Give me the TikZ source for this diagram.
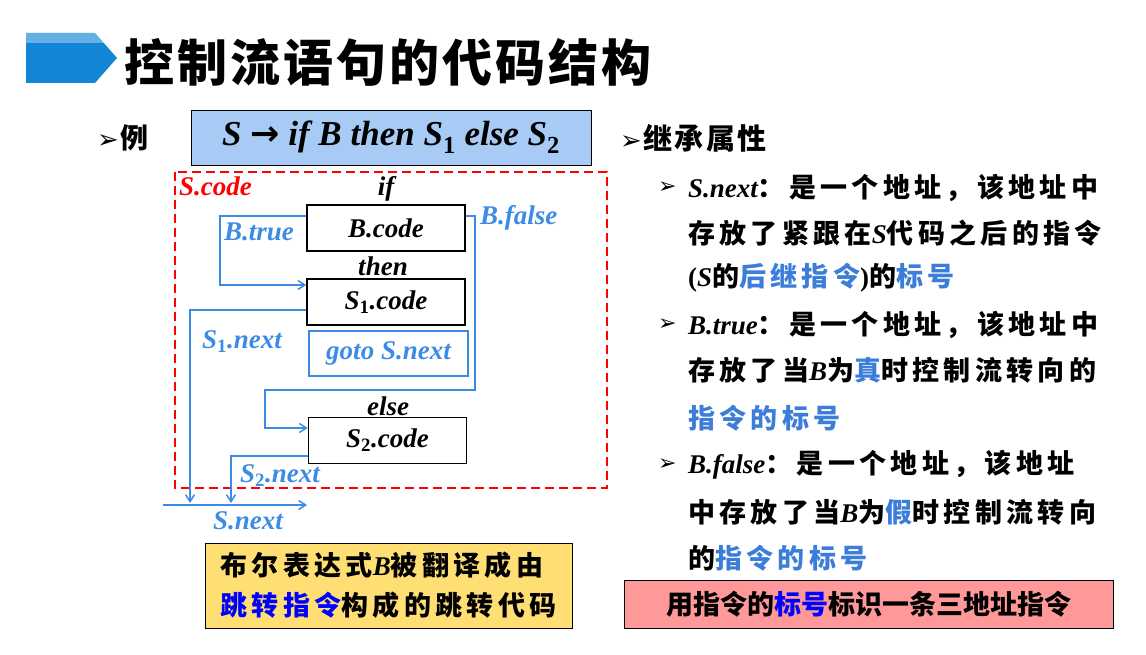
\documentclass[tikz,border=0pt]{standalone}
\usepackage{fontspec}
\setmainfont{Liberation Serif}
\newfontfamily\zhf{Noto Sans CJK SC}
\newfontfamily\zhs{Noto Sans CJK SC}[LetterSpace=16]
\newfontfamily\sym{DejaVu Sans}
\newcommand{\zh}[1]{{\zhf\bfseries #1}}
\newcommand{\zs}[1]{{\zhs\bfseries #1}}
\newcommand{\bt}[1]{{\bfseries\itshape #1}}
\definecolor{lb}{HTML}{3C8CE6}
\definecolor{tb}{HTML}{3B7DD8}
\definecolor{hdr}{HTML}{1385D6}
\usetikzlibrary{arrows.meta}
\begin{document}
\begin{tikzpicture}[x=1pt,y=-1pt,
  cbox/.style={draw=black,line width=1.5pt,minimum width=158pt,minimum height=46pt,inner sep=0pt,font=\fontsize{27}{27}\selectfont\bfseries\itshape},
  lab/.style={inner sep=0pt,font=\fontsize{27}{27}\selectfont\bfseries\itshape},
  bl/.style={lb,line width=1.5pt,-{Straight Barb[length=7pt,width=9pt]}},
  rt/.style={anchor=west,inner sep=0pt,font=\fontsize{27}{27}\selectfont}]
\useasboundingbox (0,0) rectangle (1146,655);
% title
\fill[hdr] (26,33) -- (95,33) -- (117,58) -- (95,83) -- (26,83) -- cycle;
\fill[white,opacity=0.35] (26,33) -- (95,33) -- (104,43) -- (26,43) -- cycle;
\node[anchor=west,inner sep=0pt] (title) at (124,62) {\zhf\bfseries\addfontfeature{LetterSpace=6}\fontsize{50}{50}\selectfont 控制流语句的代码结构};
% example
\node[anchor=west,inner sep=0pt] (li) at (97,138) {{\sym\fontsize{26}{26}\selectfont ➢}\,\zh{\fontsize{28}{28}\selectfont 例}};
\node[draw=black,fill=lb!45,line width=0.8pt,minimum width=400pt,minimum height=55pt,inner sep=0pt] (formula) at (391,137.5)
  {\fontsize{35}{35}\selectfont\bfseries\itshape S {\upshape\sym\bfseries →} if B then S\textsubscript{\upshape 1} else S\textsubscript{\upshape 2}};
% dashed frame
\draw[red,line width=1.5pt,dash pattern=on 9pt off 5pt] (175,172) rectangle (607,488);
\node[lab,red,anchor=west] (scode) at (179,186) {S.code};
\node[lab] (if) at (386,189) {if};
\node[cbox] (bc) at (386,228) {B.code};
\node[lab] (then) at (383,266) {then};
\node[cbox] (s1) at (386,302) {S\textsubscript{\upshape 1}.code};
\node[draw=lb,line width=1.5pt,minimum width=159pt,minimum height=45pt,inner sep=0pt,lab,lb] (gt) at (388.5,353.5) {goto S.next};
\node[lab] (else) at (388,406) {else};
\node[cbox] (s2) at (387.5,440.5) {S\textsubscript{\upshape 2}.code};
% connectors
\coordinate (a1) at (220,216);
\coordinate (a2) at (220,285);
\draw[bl] (bc.west|-a1) -- (a1) -- (a2) -- (s1.west|-a2);
\node[lab,lb,anchor=west] (btrue) at (224,232) {B.true};
\coordinate (f1) at (475,216);
\coordinate (f2) at (475,390);
\coordinate (f3) at (265,390);
\coordinate (f4) at (265,428);
\draw[bl] (bc.east|-f1) -- (f1) -- (f2) -- (f3) -- (f4) -- (s2.west|-f4);
\node[lab,lb,anchor=west] (bfalse) at (480,218) {B.false};
\coordinate (n0) at (163,505);
\coordinate (n1) at (307,505);
\draw[bl] (n0) -- (n1);
\coordinate (p1) at (190,310);
\coordinate (p2) at (190,503);
\draw[bl] (s1.west|-p1) -- (p1) -- (p2);
\coordinate (q1) at (231,456);
\coordinate (q2) at (231,503);
\draw[bl] (s2.west|-q1) -- (q1) -- (q2);
\node[lab,lb,anchor=west] (s1n) at (202,342) {S\textsubscript{\upshape 1}.next};
\node[lab,lb,anchor=west] (s2n) at (240,476) {S\textsubscript{\upshape 2}.next};
\node[lab,lb] (sn) at (248,521) {S.next};
% yellow box
\node[draw=black,fill=orange!45!yellow!55,line width=0.8pt,minimum width=367pt,minimum height=85pt,inner sep=0pt,align=left,font=\fontsize{27}{40}\selectfont] (yb) at (388.5,585.5)
  {\zs{布尔表达式}\bt{B}\zs{被翻译成由}\\\zs{\textcolor{blue}{跳转指令}构成的跳转代码}};
% right side
\node[anchor=west,inner sep=0pt] (jc) at (620,138) {{\sym\fontsize{26}{26}\selectfont ➢}\,\zh{\addfontfeature{LetterSpace=8}\fontsize{29}{29}\selectfont 继承属性}};
\foreach \y in {188,325,465}{\node[anchor=west,inner sep=0pt] at (658,\y) {\sym\fontsize{22}{22}\selectfont ➢};}
\node[rt] (r1) at (688,188) {\bt{S.next}\zs{：是一个地址，该地址中}};
\node[rt] (r2) at (688,233) {\zs{存放了紧跟在}\bt{S}\zs{代码之后的指令}};
\node[rt] (r3) at (688,278) {\textbf{(}\bt{S}\zs{的\textcolor{tb}{后继指令}}\textbf{)}\zs{的\textcolor{tb}{标号}}};
\node[rt] (r4) at (688,325) {\bt{B.true}\zs{：是一个地址，该地址中}};
\node[rt] (r5) at (688,370) {\zs{存放了当}\bt{B}\zs{为\textcolor{tb}{真}时控制流转向的}};
\node[rt] (r6) at (688,418) {\zs{\textcolor{tb}{指令的标号}}};
\node[rt] (r7) at (688,465) {\bt{B.false}\zs{：是一个地址，该地址}};
\node[rt] (r8) at (688,512) {\zs{中存放了当}\bt{B}\zs{为\textcolor{tb}{假}时控制流转向}};
\node[rt] (r9) at (688,558) {\zs{的\textcolor{tb}{指令的标号}}};
\node[draw=black,fill=red!40,line width=0.8pt,minimum width=489pt,minimum height=48pt,inner sep=0pt,font=\fontsize{27}{27}\selectfont] (pb) at (868.5,604)
  {\zh{用指令的\textcolor{blue}{标号}标识一条三地址指令}};
\end{tikzpicture}
\end{document}
